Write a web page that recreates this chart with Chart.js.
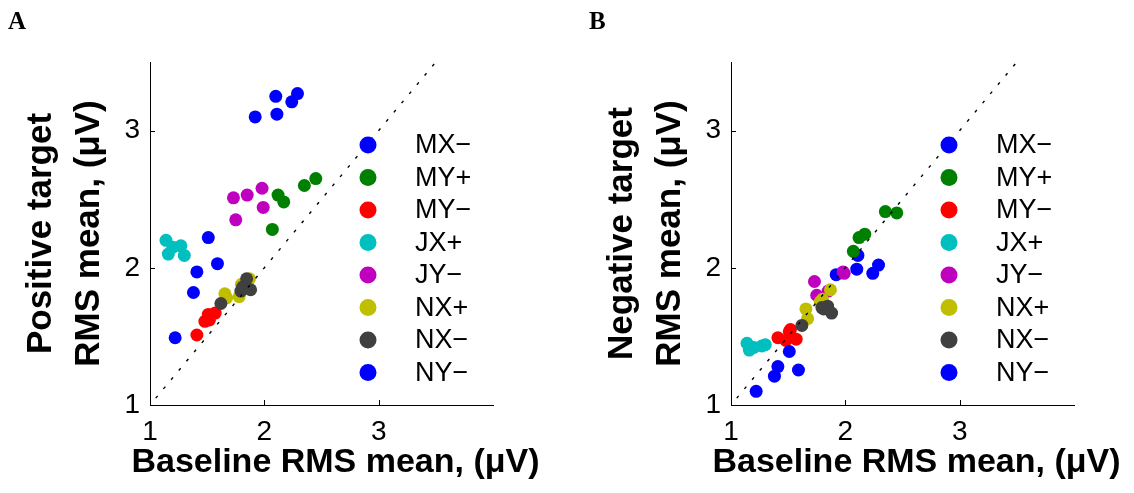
<!DOCTYPE html>
<html>
<head>
<meta charset="utf-8">
<script src="https://cdn.jsdelivr.net/npm/chart.js@4/dist/chart.umd.min.js"></script>
<style>
  body { margin: 0; background: #fff; }
  canvas { position: absolute; top: 0; }
  #chartA { left: 0; }
  #chartB { left: 581px; }
</style>
</head>
<body>
<canvas id="chartA" width="581" height="493"></canvas>
<canvas id="chartB" width="553" height="493"></canvas>
<script>
const seriesNames = ['MX\u2212', 'MY+', 'MY\u2212', 'JX+', 'JY\u2212', 'NX+', 'NX\u2212', 'NY\u2212'];
const seriesColors = ['#0000ff', '#008000', '#ff0000', '#00bfbf', '#bf00bf', '#bfbf00', '#404040', '#0000ff'];

// baseline RMS mean, one row per series (shared by both panels)
const baseline = [
  [1.92, 2.10, 2.11, 2.24, 2.29],
  [2.07, 2.12, 2.17, 2.35, 2.45],
  [1.41, 1.48, 1.51, 1.52, 1.57],
  [1.14, 1.16, 1.20, 1.27, 1.30],
  [1.73, 1.75, 1.85, 1.98, 1.99],
  [1.655, 1.67, 1.78, 1.80, 1.87],
  [1.62, 1.795, 1.81, 1.845, 1.88],
  [1.22, 1.38, 1.41, 1.51, 1.59]
];
// positive target RMS mean (panel A)
const positiveTarget = [
  [3.10, 3.25, 3.12, 3.21, 3.27],
  [2.28, 2.53, 2.48, 2.60, 2.65],
  [1.51, 1.61, 1.66, 1.62, 1.67],
  [2.20, 2.10, 2.15, 2.16, 2.09],
  [2.51, 2.35, 2.53, 2.58, 2.44],
  [1.81, 1.78, 1.79, 1.88, 1.92],
  [1.74, 1.83, 1.86, 1.92, 1.84],
  [1.49, 1.82, 1.97, 2.22, 2.03]
];
// negative target RMS mean (panel B)
const negativeTarget = [
  [1.95, 1.99, 2.09, 1.96, 2.02],
  [2.12, 2.22, 2.245, 2.41, 2.40],
  [1.49, 1.47, 1.535, 1.55, 1.48],
  [1.45, 1.40, 1.42, 1.43, 1.44],
  [1.90, 1.80, 1.83, 1.97, 1.96],
  [1.70, 1.63, 1.75, 1.77, 1.84],
  [1.58, 1.71, 1.70, 1.72, 1.67],
  [1.10, 1.21, 1.28, 1.39, 1.255]
];
const xTicks = [1, 2, 3];
const yTicks = [1, 2, 3];
const diagLine = [1.05, 3.5];
const xTitle = 'Baseline RMS mean, (\u03bcV)';

const FONT = "'Liberation Sans', Arial, sans-serif";

// inward tick marks, panel letter, x title (wider than the axis) and in-axes legend
const decorPlugin = {
  id: 'decor',
  afterDraw(chart, args, opts) {
    const ctx = chart.ctx;
    const area = chart.chartArea;
    const xs = chart.scales.x, ys = chart.scales.y;
    ctx.save();
    ctx.strokeStyle = '#000';
    ctx.lineWidth = 1;
    ctx.beginPath();
    xTicks.forEach(v => {
      const px = Math.round(xs.getPixelForValue(v)) + 0.5;
      ctx.moveTo(px, area.bottom);
      ctx.lineTo(px, area.bottom - 5);
    });
    yTicks.forEach(v => {
      const py = Math.round(ys.getPixelForValue(v)) + 0.5;
      ctx.moveTo(area.left, py);
      ctx.lineTo(area.left + 5, py);
    });
    ctx.stroke();

    ctx.fillStyle = '#000';
    ctx.font = "bold 25px 'Liberation Serif', 'Times New Roman', serif";
    ctx.textBaseline = 'alphabetic';
    ctx.textAlign = 'left';
    ctx.fillText(opts.letter, 8, 29);

    ctx.font = 'bold 34px ' + FONT;
    ctx.textAlign = 'center';
    ctx.fillText(xTitle, (area.left + area.right) / 2 + 14, 472);

    ctx.font = '27px ' + FONT;
    ctx.textAlign = 'left';
    ctx.textBaseline = 'middle';
    seriesNames.forEach((name, i) => {
      const y = area.top + 83 + i * 32.5;
      ctx.fillStyle = seriesColors[i];
      ctx.beginPath();
      ctx.arc(area.left + 218, y, 8.5, 0, Math.PI * 2);
      ctx.fill();
      ctx.fillStyle = '#000';
      ctx.fillText(name, area.left + 265, y + 1);
    });
    ctx.restore();
  }
};

function makePanel(id, letter, yTitle, targetValues) {
  const canvas = document.getElementById(id);
  const datasets = seriesNames.map((name, i) => ({
    type: 'scatter',
    label: name,
    data: baseline[i].map((b, j) => ({ x: b, y: targetValues[i][j] })),
    backgroundColor: seriesColors[i],
    pointRadius: 6.5,
    pointHoverRadius: 6.5,
    pointBorderWidth: 0,
    order: seriesNames.length - i
  }));
  datasets.push({
    type: 'line',
    label: 'diag',
    data: diagLine.map(v => ({ x: v, y: v })),
    borderColor: '#000',
    borderWidth: 1.4,
    borderDash: [3, 9],
    pointRadius: 0,
    fill: false,
    order: 0
  });

  return new Chart(canvas, {
    data: { datasets },
    options: {
      responsive: false,
      animation: false,
      events: [],
      layout: { padding: { top: 62, right: canvas.width - 493, left: 0, bottom: 0 } },
      plugins: {
        legend: { display: false },
        tooltip: { enabled: false },
        decor: { letter }
      },
      scales: {
        x: {
          type: 'linear',
          min: 1,
          max: 4,
          afterBuildTicks: s => { s.ticks = xTicks.map(v => ({ value: v })); },
          afterFit: s => { s.height = 88; },
          grid: { display: false, drawTicks: false },
          border: { display: true, color: '#000', width: 1 },
          ticks: { color: '#000', font: { family: FONT, size: 28 }, padding: 10, maxRotation: 0 },
          title: { display: false }
        },
        y: {
          type: 'linear',
          min: 1,
          max: 3.5,
          afterBuildTicks: s => { s.ticks = yTicks.map(v => ({ value: v })); },
          afterFit: s => { s.width = 150; },
          grid: { display: false, drawTicks: false },
          border: { display: true, color: '#000', width: 1 },
          ticks: { color: '#000', font: { family: FONT, size: 28 }, padding: 10 },
          title: {
            display: true,
            text: yTitle,
            color: '#000',
            font: { family: FONT, size: 35, weight: 'bold', lineHeight: 1.37 },
            padding: { top: 17, bottom: 0 }
          }
        }
      }
    },
    plugins: [decorPlugin]
  });
}

makePanel('chartA', 'A', ['Positive target', 'RMS mean, (\u03bcV)'], positiveTarget);
makePanel('chartB', 'B', ['Negative target', 'RMS mean, (\u03bcV)'], negativeTarget);
</script>
</body>
</html>
